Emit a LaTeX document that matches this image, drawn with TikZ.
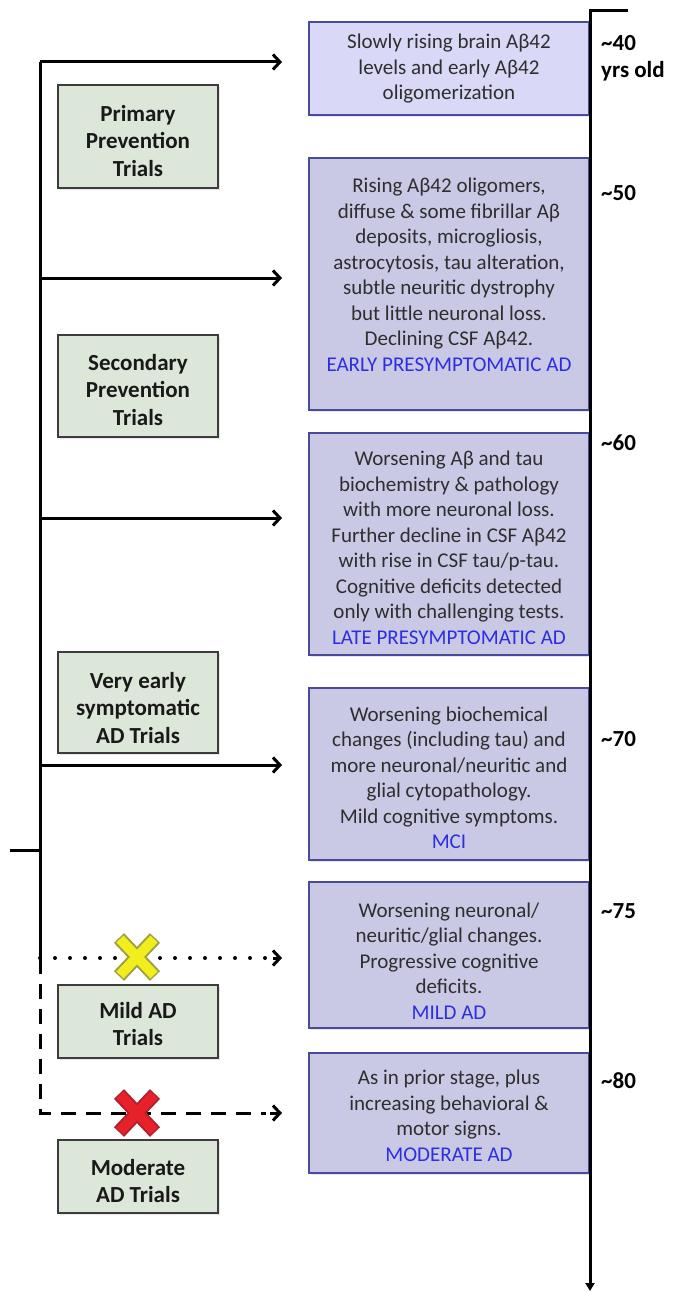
\documentclass[tikz,border=0pt]{standalone}
\usepackage{fontspec}
\setmainfont{Carlito}
\usetikzlibrary{arrows.meta,shadows}
\definecolor{pfill}{HTML}{C9C9E6}
\definecolor{pfillA}{HTML}{D9D9F7}
\definecolor{pborder}{HTML}{4A4A9C}
\definecolor{gfill}{HTML}{DCE7DA}
\definecolor{gborder}{HTML}{3C3C3C}
\definecolor{stage}{HTML}{2E2EE0}
\definecolor{bodytext}{HTML}{2E2E2E}
\definecolor{xyellow}{HTML}{F2EE1E}
\definecolor{xyellowedge}{HTML}{9CA040}
\definecolor{xred}{HTML}{E8202A}
\definecolor{xrededge}{HTML}{B02030}
\begin{document}
\begin{tikzpicture}[x=1pt,y=-1pt,
 pbox/.style={draw=pborder, fill=pfill, line width=2pt, inner sep=0, minimum width=280pt,
   drop shadow={shadow xshift=1.5pt, shadow yshift=-2pt, opacity=0.2}},
 gbox/.style={draw=gborder, fill=gfill, line width=2pt, inner sep=0, minimum width=160pt,
   drop shadow={shadow xshift=1.5pt, shadow yshift=-2pt, opacity=0.2}},
 ptext/.style={align=center, font=\fontsize{21}{25.5}\selectfont, text=bodytext},
 gtext/.style={align=center, font=\fontsize{23}{27.5}\selectfont\bfseries, text=black!90},
 age/.style={font=\fontsize{23}{27}\selectfont\bfseries, anchor=west, align=left, inner sep=0},
 trial/.style={line width=3pt, -{Straight Barb[length=7pt,width=15pt,line width=3pt]}},
 xline/.style={line width=#1, line cap=butt},
]
\useasboundingbox (0,0) rectangle (678,1292);

% stage boxes
\node[pbox, fill=pfillA, minimum height=93pt]  (b1) at (449,68.5) {};
\node[pbox, minimum height=252pt] (b2) at (449,284) {};
\node[pbox, minimum height=222pt] (b3) at (449,544) {};
\node[pbox, minimum height=172pt] (b4) at (449,774) {};
\node[pbox, minimum height=146pt] (b5) at (449,955) {};
\node[pbox, minimum height=120pt] (b6) at (449,1113) {};

\node[ptext] (t1) at (449,69) {Slowly rising brain Aβ42\\levels and early Aβ42\\oligomerization};
\node[ptext] (t2) at (449,275) {Rising Aβ42 oligomers,\\diffuse \& some fibrillar Aβ\\deposits, microgliosis,\\astrocytosis, tau alteration,\\subtle neuritic dystrophy\\but little neuronal loss.\\Declining CSF Aβ42.\\\textcolor{stage}{EARLY PRESYMPTOMATIC AD}};
\node[ptext] (t3) at (449,548) {Worsening Aβ and tau\\biochemistry \& pathology\\with more neuronal loss.\\Further decline in CSF Aβ42\\with rise in CSF tau/p-tau.\\Cognitive deficits detected\\only with challenging tests.\\\textcolor{stage}{LATE PRESYMPTOMATIC AD}};
\node[ptext] (t4) at (449,778) {Worsening biochemical\\changes (including tau) and\\more neuronal/neuritic and\\glial cytopathology.\\Mild cognitive symptoms.\\\textcolor{stage}{MCI}};
\node[ptext] (t5) at (449,961) {Worsening neuronal/\\neuritic/glial changes.\\Progressive cognitive\\deficits.\\\textcolor{stage}{MILD AD}};
\node[ptext] (t6) at (449,1116) {As in prior stage, plus\\increasing behavioral \&\\motor signs.\\\textcolor{stage}{MODERATE AD}};

% timeline
\coordinate (tl0) at (628,11);
\coordinate (tl1) at (590,11);
\coordinate (tl2) at (590,1291);
\draw[line width=3pt, -{Triangle[length=8pt,width=9pt]}] (tl0) -- (tl1) -- (tl2);

% ages
\node[age] (g40) at (601,58) {\textasciitilde40\\yrs old};
\node[age] (g50) at (601,193) {\textasciitilde50};
\node[age] (g60) at (601,443) {\textasciitilde60};
\node[age] (g70) at (601,739) {\textasciitilde70};
\node[age] (g75) at (601,911) {\textasciitilde75};
\node[age] (g80) at (601,1081) {\textasciitilde80};

% trial boxes
\node[gbox, minimum height=103pt] (p1) at (138,136.5) {};
\node[gbox, minimum height=102pt] (p2) at (138,386) {};
\node[gbox, minimum height=101pt] (p3) at (138,702.5) {};
\node[gbox, minimum height=73pt]  (p4) at (138,1021.5) {};
\node[gbox, minimum height=73pt]  (p5) at (138,1176.5) {};
\node[gtext] (q1) at (138,141) {Primary\\Prevention\\Trials};
\node[gtext] (q2) at (138,390) {Secondary\\Prevention\\Trials};
\node[gtext] (q3) at (138,708) {Very early\\symptomatic\\AD Trials};
\node[gtext] (q4) at (138,1024) {Mild AD\\Trials};
\node[gtext] (q5) at (138,1181) {Moderate\\AD Trials};

% trial connector tree
\coordinate (L0) at (40,62);
\coordinate (L1) at (40,959);
\coordinate (L2) at (40,1113);
\coordinate (S0) at (10,850);
\coordinate (S1) at (40,850);
\coordinate (a1) at (282,62);
\coordinate (a2) at (282,278);
\coordinate (a3) at (282,518);
\coordinate (a4) at (282,765);
\coordinate (a5) at (282,958);
\coordinate (a6) at (282,1113);
\coordinate (m2) at (40,278);
\coordinate (m3) at (40,518);
\coordinate (m4) at (40,765);
\coordinate (d0) at (40,958);

\draw[line width=3pt] (L0) -- (L1);
\draw[line width=3pt] (S0) -- (S1);
\draw[trial] (L0) -- (a1);
\draw[trial] (m2) -- (a2);
\draw[trial] (m3) -- (a3);
\draw[trial] (m4) -- (a4);
\draw[line width=4pt, line cap=round, dash pattern=on 0pt off 15pt] (d0) -- ++(228,0);
\draw[line width=3pt, -{Straight Barb[length=7pt,width=15pt,line width=3pt]}] (a5) ++(-9,0) -- (a5);
\draw[line width=3pt, dash pattern=on 15pt off 10pt] (L1) -- (L2) -- ++(226,0);
\draw[line width=3pt, -{Straight Barb[length=7pt,width=15pt,line width=3pt]}] (a6) ++(-12,0) -- (a6);

% X marks
\coordinate (x1) at (137,957);
\coordinate (x2) at (137,1113);
\draw[xline=14pt, xyellowedge] (x1) ++(-18,-19) -- ++(36,38) (x1) ++(-18,19) -- ++(36,-38);
\draw[xline=10pt, xyellow] (x1) ++(-17,-18) -- ++(34,36) (x1) ++(-17,18) -- ++(34,-36);
\draw[xline=14pt, xrededge] (x2) ++(-18,-19) -- ++(36,38) (x2) ++(-18,19) -- ++(36,-38);
\draw[xline=10pt, xred] (x2) ++(-17,-18) -- ++(34,36) (x2) ++(-17,18) -- ++(34,-36);
\end{tikzpicture}
\end{document}
